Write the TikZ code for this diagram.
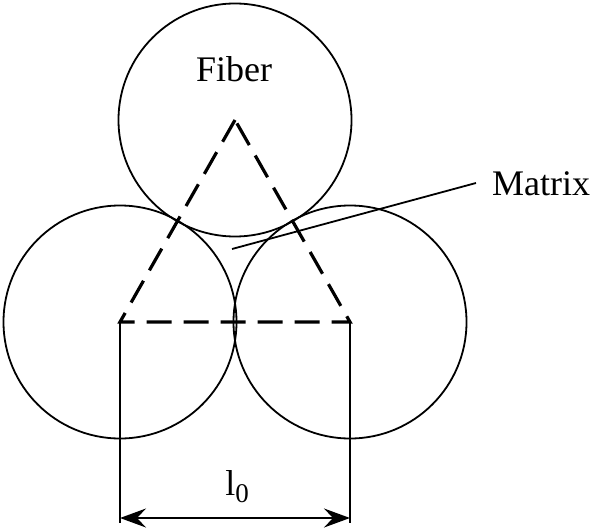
\documentclass[tikz,border=0pt]{standalone}
\usepackage{fontspec}
\setmainfont{Liberation Serif}
\usetikzlibrary{arrows.meta, calc}

\begin{document}
\begin{tikzpicture}[
  x=1pt, y=-1pt,
  fiber/.style={circle, draw, line width=1.8pt, minimum size=233pt, inner sep=0pt},
  cell/.style={line width=3.2pt, dash pattern=on 25pt off 12pt},
  thin/.style={line width=1.8pt},
  dimarrow/.style={{Stealth[length=26pt, width=19pt, inset=9pt]}-{Stealth[length=26pt, width=19pt, inset=9pt]}, line width=1.8pt},
  lbl/.style={font=\fontsize{36}{40}\selectfont, inner sep=0pt},
]
\useasboundingbox (0,0) rectangle (593,529);

% ---- fibers ----
\node[fiber] (ftop) at (235,120) {};
\node[fiber] (fleft) at (120,322) {};
\node[fiber] (fright) at (350,322) {};

\node[lbl] (fiberlbl) at (234,69) {Fiber};

% ---- unit cell ----
\draw[cell] (ftop.center) -- (fleft.center) -- (fright.center) -- cycle;

% ---- matrix label ----
\node[lbl, anchor=base west] (matrixlbl) at (492,195) {Matrix};
\coordinate (mtip) at (232,249);
\coordinate (mend) at (476,183);
\draw[thin] (mtip) -- (mend);

% ---- spacing l0 ----
\coordinate (dimL) at (120,523);
\coordinate (dimR) at (350,523);
\coordinate (arrL) at (120,518);
\coordinate (arrR) at (350,518);
\draw[thin] (fleft.center) -- (dimL);
\draw[thin] (fright.center) -- (dimR);
\draw[dimarrow] (arrL) -- (arrR);
\node[lbl, anchor=base] (spacing) at (237,495) {l\raisebox{-7pt}{\fontsize{27}{30}\selectfont 0}};

\end{tikzpicture}
\end{document}
